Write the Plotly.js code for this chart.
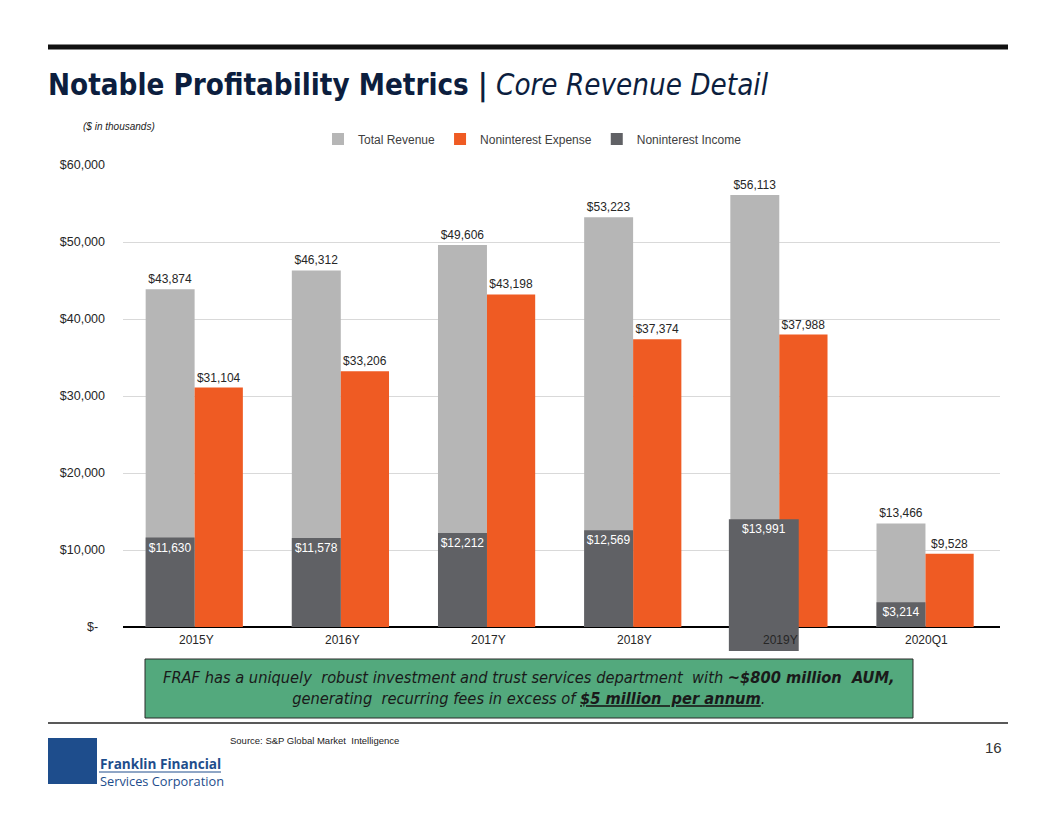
<!DOCTYPE html>
<html>
<head>
<meta charset="utf-8">
<script src="https://cdn.plot.ly/plotly-3.0.1.min.js"></script>
<style>
html,body{margin:0;padding:0;background:#fff;}
#chart{width:1056px;height:816px;}
</style>
</head>
<body>
<div id="chart"></div>
<script>
// ---- data ----
const categories = ['2015Y', '2016Y', '2017Y', '2018Y', '2019Y', '2020Q1'];
const totalRevenue = [43874, 46312, 49606, 53223, 56113, 13466];
const noninterestExpense = [31104, 33206, 43198, 37374, 37988, 9528];
const noninterestIncome = [11630, 11578, 12212, 12569, 13991, 3214];
const yTickValues = [0, 10000, 20000, 30000, 40000, 50000, 60000];
const yTickLabels = ['$-\u00a0\u00a0', '$10,000', '$20,000', '$30,000', '$40,000', '$50,000', '$60,000'];
const seriesNames = ['Total Revenue', 'Noninterest Expense', 'Noninterest Income'];

// ---- helpers ----
const fmt = v => '$' + v.toLocaleString('en-US');
const L = 123, R = 1000, T = 165, B = 651;
const PW = R - L, PH = B - T;
const px = x => (x - L) / PW;
const py = y => (B - y) / PH;

const GRAY = '#B6B6B6', ORANGE = '#EF5B23', DARK = '#606165';
const FONT = 'Liberation Sans, Arial, sans-serif';
const NARROW = 'DejaVu Sans Condensed, Liberation Sans Narrow, Arial Narrow, sans-serif';

// rendering quirk in the original: 2019Y income bar drawn wider and extending below axis
const incomeBase = noninterestIncome.map((v, i) => i === 4 ? -3100 : 0);
const incomeWidth = noninterestIncome.map((v, i) => i === 4 ? 0.478 : 0.335);
const incomeOffset = noninterestIncome.map((v, i) => i === 4 ? -0.355 : -0.345);

const traces = [
  {
    type: 'bar', name: seriesNames[0], x: categories, y: totalRevenue,
    marker: {color: GRAY}, width: 0.335, offset: -0.345,
    text: totalRevenue.map(fmt), textposition: 'outside', textangle: 0, cliponaxis: false,
    constraintext: 'none', textfont: {family: FONT, size: 12, color: '#262626'},
    hoverinfo: 'x+y'
  },
  {
    type: 'bar', name: seriesNames[1], x: categories, y: noninterestExpense,
    marker: {color: ORANGE}, width: 0.33, offset: -0.01,
    text: noninterestExpense.map(fmt), textposition: 'outside', textangle: 0, cliponaxis: false,
    constraintext: 'none', textfont: {family: FONT, size: 12, color: '#262626'},
    hoverinfo: 'x+y'
  },
  {
    type: 'bar', name: seriesNames[2], x: categories,
    y: noninterestIncome.map((v, i) => v - incomeBase[i]), base: incomeBase,
    marker: {color: DARK}, width: incomeWidth, offset: incomeOffset,
    text: noninterestIncome.map(fmt),
    textposition: 'inside', insidetextanchor: 'end', textangle: 0,
    constraintext: 'none', textfont: {family: FONT, size: 12, color: '#FFFFFF'},
    hoverinfo: 'x+text'
  }
];

const shapes = [
  {type: 'line', xref: 'paper', yref: 'paper', x0: px(48), x1: px(1008), y0: py(47), y1: py(47), line: {color: '#111', width: 5}},
  {type: 'line', xref: 'paper', yref: 'paper', x0: px(48), x1: px(1008), y0: py(723), y1: py(723), line: {color: '#222', width: 1.3}},
  {type: 'rect', xref: 'paper', yref: 'paper', x0: px(145), x1: px(913), y0: py(718), y1: py(659), fillcolor: '#53A97D', line: {color: '#2a2a2a', width: 1}},
  {type: 'rect', xref: 'paper', yref: 'paper', x0: px(48), x1: px(97), y0: py(784), y1: py(738), fillcolor: '#1E4D8C', line: {width: 0}},
  {type: 'line', xref: 'paper', yref: 'paper', x0: px(99), x1: px(221), y0: py(772), y1: py(772), line: {color: '#1E4D8C', width: 1}}
];

const annotations = [
  {xref: 'paper', yref: 'paper', x: px(46), y: py(85), xanchor: 'left', yanchor: 'middle', showarrow: false,
   text: '<b>Notable Profitability Metrics |</b> <i>Core Revenue Detail</i>',
   font: {family: NARROW, size: 29.3, color: '#0C1E3E'}},
  {xref: 'paper', yref: 'paper', x: px(81), y: py(126), xanchor: 'left', yanchor: 'middle', showarrow: false,
   text: '<i>($ in thousands)</i>', font: {family: FONT, size: 10, color: '#222'}},
  {xref: 'paper', yref: 'paper', x: px(529), y: py(688), xanchor: 'center', yanchor: 'middle', showarrow: false,
   text: '<i>FRAF has a uniquely  robust investment and trust services department  with <b>~$800 million  AUM,</b><br>generating  recurring fees in excess of <b><u>$5 million  per annum</u></b>.</i>',
   font: {family: NARROW, size: 16.3, color: '#1a1a1a'}},
  {xref: 'paper', yref: 'paper', x: px(228), y: py(740), xanchor: 'left', yanchor: 'middle', showarrow: false,
   text: 'Source: S&amp;P Global Market  Intelligence', font: {family: FONT, size: 9.5, color: '#222'}},
  {xref: 'paper', yref: 'paper', x: px(1004), y: py(747), xanchor: 'right', yanchor: 'middle', showarrow: false,
   text: '16', font: {family: FONT, size: 15, color: '#333'}},
  {xref: 'paper', yref: 'paper', x: px(98), y: py(763), xanchor: 'left', yanchor: 'middle', showarrow: false,
   text: '<b>Franklin Financial</b>', font: {family: 'Open Sans, Noto Sans, sans-serif', size: 13.6, color: '#1E4D8C'}},
  {xref: 'paper', yref: 'paper', x: px(98), y: py(781), xanchor: 'left', yanchor: 'middle', showarrow: false,
   text: 'Services Corporation', font: {family: 'Open Sans, Noto Sans, sans-serif', size: 12.8, color: '#1E4D8C'}}
];
categories.forEach((c, i) => {
  annotations.push({xref: 'x', yref: 'y', x: c, y: 0, xanchor: 'center', yanchor: 'top', yshift: -4,
    showarrow: false, text: c,
    font: {family: FONT, size: 12, color: '#262626'}});
});

const layout = {
  width: 1056, height: 816,
  margin: {l: L, r: 1056 - R, t: T, b: 816 - B, pad: 0},
  paper_bgcolor: '#fff', plot_bgcolor: '#fff',
  barmode: 'overlay', showlegend: true,
  legend: {orientation: 'h', x: px(318), y: py(139), xanchor: 'left', yanchor: 'middle',
    font: {family: FONT, size: 12, color: '#404040'}, bgcolor: 'rgba(0,0,0,0)', traceorder: 'normal'},
  xaxis: {type: 'category', showticklabels: false, showgrid: false, zeroline: false, showline: false,
    ticks: '', range: [-0.5, 5.5], fixedrange: true},
  yaxis: {range: [-3100, 60000], tickvals: yTickValues, ticktext: yTickLabels,
    showgrid: true, gridcolor: '#D9D9D9', gridwidth: 1, zeroline: true, zerolinecolor: '#000', zerolinewidth: 1.3,
    showline: false, ticks: '', ticklabelstandoff: 17,
    tickfont: {family: FONT, size: 12.5, color: '#262626'}, fixedrange: true},
  shapes: shapes, annotations: annotations,
  font: {family: FONT}
};

Plotly.newPlot('chart', traces, layout, {displayModeBar: false, staticPlot: true});
</script>
</body>
</html>
